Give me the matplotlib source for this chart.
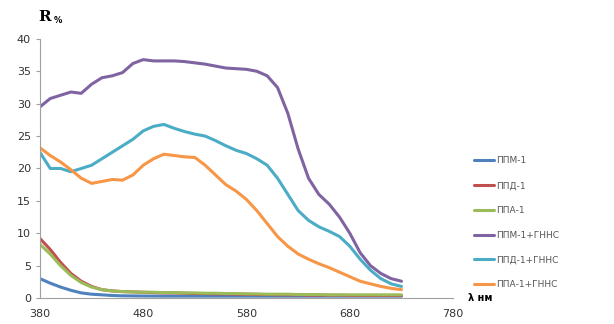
import numpy as np
import matplotlib.pyplot as plt

wl = [380, 390, 400, 410, 420, 430, 440, 450, 460, 470, 480, 490, 500, 510,
      520, 530, 540, 550, 560, 570, 580, 590, 600, 610, 620, 630, 640, 650,
      660, 670, 680, 690, 700, 710, 720, 730]

ppm1 = [3.0, 2.3, 1.7, 1.2, 0.8, 0.6, 0.5, 0.4, 0.35, 0.33, 0.32, 0.31, 0.3, 0.3,
        0.3, 0.3, 0.3, 0.3, 0.3, 0.3, 0.3, 0.3, 0.3, 0.3, 0.3, 0.3, 0.3, 0.3,
        0.3, 0.3, 0.3, 0.3, 0.3, 0.3, 0.3, 0.3]
ppd1 = [9.2, 7.5, 5.5, 3.8, 2.6, 1.8, 1.3, 1.1, 1.0, 0.95, 0.9, 0.85, 0.8, 0.8,
        0.75, 0.7, 0.7, 0.65, 0.65, 0.6, 0.6, 0.55, 0.55, 0.5, 0.5, 0.5, 0.45, 0.45,
        0.45, 0.45, 0.4, 0.4, 0.4, 0.4, 0.4, 0.4]
ppa1 = [8.3, 6.8, 5.0, 3.5, 2.4, 1.7, 1.3, 1.1, 1.0, 0.95, 0.9, 0.9, 0.85, 0.85,
        0.8, 0.8, 0.75, 0.75, 0.7, 0.7, 0.65, 0.65, 0.6, 0.6, 0.6, 0.55, 0.55, 0.55,
        0.5, 0.5, 0.5, 0.5, 0.5, 0.5, 0.5, 0.5]
ppm1_g = [29.5, 30.8, 31.3, 31.8, 31.6, 33.0, 34.0, 34.3, 34.8, 36.2, 36.8, 36.6, 36.6, 36.6,
          36.5, 36.3, 36.1, 35.8, 35.5, 35.4, 35.3, 35.0, 34.3, 32.5, 28.5, 23.0, 18.5, 16.0,
          14.5, 12.5, 10.0, 7.0, 5.0, 3.8, 3.0, 2.6]
ppd1_g = [22.5, 20.0, 20.0, 19.5, 20.0, 20.5, 21.5, 22.5, 23.5, 24.5, 25.8, 26.5, 26.8, 26.2,
          25.7, 25.3, 25.0, 24.3, 23.5, 22.8, 22.3, 21.5, 20.5, 18.5, 16.0, 13.5, 12.0, 11.0,
          10.3, 9.5, 8.0, 6.0, 4.3, 3.0, 2.2, 1.8]
ppa1_g = [23.2, 22.0, 21.0, 19.8, 18.5, 17.7, 18.0, 18.3, 18.2, 19.0, 20.5, 21.5, 22.2, 22.0,
          21.8, 21.7, 20.5, 19.0, 17.5, 16.5, 15.2, 13.5, 11.5, 9.5, 8.0, 6.8, 6.0, 5.3,
          4.7, 4.0, 3.3, 2.6, 2.2, 1.8, 1.5, 1.3]

labels = ["ППМ-1", "ППД-1", "ППА-1", "ППМ-1+ГННС", "ППД-1+ГННС", "ППА-1+ГННС"]
colors = ["#4F81BD", "#C0504D", "#9BBB59", "#8064A2", "#4BACC6", "#F79646"]
series = [ppm1, ppd1, ppa1, ppm1_g, ppd1_g, ppa1_g]

fig = plt.figure(figsize=(6.14, 3.24), dpi=100)
ax = fig.add_axes([0.065, 0.080, 0.673, 0.80])

for y, lab, c in zip(series, labels, colors):
    ax.plot(wl, y, color=c, lw=2.2, label=lab, solid_capstyle="round")

ax.set_xlim(380, 780)
ax.set_ylim(0, 40)
ax.set_xticks(np.arange(380, 781, 100))
ax.set_yticks(np.arange(0, 41, 5))
for s in ["top", "right"]:
    ax.spines[s].set_visible(False)
for s in ["left", "bottom"]:
    ax.spines[s].set_color("#a0a0a0")
    ax.spines[s].set_linewidth(0.8)
ax.tick_params(axis="both", labelsize=8, colors="#a0a0a0", labelcolor="#333333",
               length=3, width=0.8)
ax.tick_params(axis="x", length=0, pad=8)

fig.text(0.062, 0.935, "R", fontsize=11, fontweight="bold", family="serif", ha="left")
fig.text(0.087, 0.928, "%", fontsize=6, fontweight="bold", ha="left")
fig.text(0.762, 0.072, "λ нм", fontsize=7, fontweight="bold", ha="left")

ax.legend(loc="center left", bbox_to_anchor=(1.03, 0.29), frameon=False,
          fontsize=6.5, labelspacing=1.75, handlelength=2.2, handletextpad=0.3,
          labelcolor="#555555")

fig.savefig("out.png", dpi=100)
